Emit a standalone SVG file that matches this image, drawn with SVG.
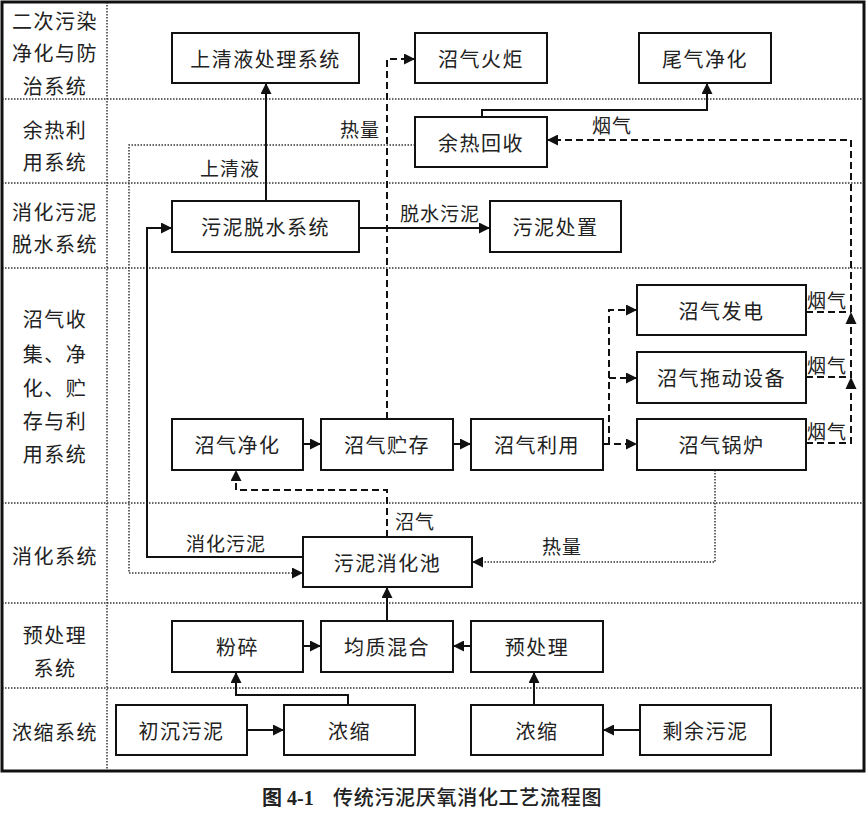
<svg xmlns="http://www.w3.org/2000/svg" width="868" height="817" viewBox="0 0 868 817">
<defs>
<style>
.bx{fill:#fff;stroke:#111;stroke-width:2}
.t{font-family:"Noto Sans CJK SC","Liberation Serif",sans-serif;font-size:20px;fill:#222;text-anchor:middle;dominant-baseline:central;letter-spacing:1.5px}
.rl{font-family:"Noto Sans CJK SC","Liberation Serif",sans-serif;font-size:20px;fill:#222;text-anchor:middle;dominant-baseline:central;letter-spacing:1.5px}
.lb{font-family:"Noto Sans CJK SC","Liberation Serif",sans-serif;font-size:19px;fill:#222;text-anchor:middle;dominant-baseline:central;letter-spacing:1px}
.grid{fill:none;stroke:#333;stroke-width:1.5;stroke-dasharray:1.5 1.5}
.s{fill:none;stroke:#111;stroke-width:2}
.d{fill:none;stroke:#111;stroke-width:2;stroke-dasharray:7 4}
.o{fill:none;stroke:#333;stroke-width:1.5;stroke-dasharray:1.5 1.5}
.ah{fill:#111}
</style>
<marker id="a" viewBox="0 0 10 10" refX="10" refY="5" markerWidth="12" markerHeight="11" markerUnits="userSpaceOnUse" orient="auto"><path d="M0,0 L10,5 L0,10 z" fill="#111"/></marker>
</defs>
<rect width="868" height="817" fill="#fff"/>
<g id="frame">
<line class="grid" x1="107" y1="2" x2="107" y2="771"/>
<line class="grid" x1="2" y1="99" x2="864" y2="99"/>
<line class="grid" x1="2" y1="183" x2="864" y2="183"/>
<line class="grid" x1="2" y1="268" x2="864" y2="268"/>
<line class="grid" x1="2" y1="503" x2="864" y2="503"/>
<line class="grid" x1="2" y1="603" x2="864" y2="603"/>
<line class="grid" x1="2" y1="688" x2="864" y2="688"/>
<rect x="2" y="2" width="862" height="769" fill="none" stroke="#111" stroke-width="3"/>
</g>
<g id="row-labels">
<text class="rl" x="55" y="20">二次污染</text>
<text class="rl" x="55" y="52">净化与防</text>
<text class="rl" x="55" y="85">治系统</text>
<text class="rl" x="55" y="129">余热利</text>
<text class="rl" x="55" y="161">用系统</text>
<text class="rl" x="55" y="211">消化污泥</text>
<text class="rl" x="55" y="243">脱水系统</text>
<text class="rl" x="55" y="318">沼气收</text>
<text class="rl" x="55" y="353">集、净</text>
<text class="rl" x="55" y="387">化、贮</text>
<text class="rl" x="55" y="420">存与利</text>
<text class="rl" x="55" y="453">用系统</text>
<text class="rl" x="55" y="555">消化系统</text>
<text class="rl" x="55" y="634">预处理</text>
<text class="rl" x="55" y="667">系统</text>
<text class="rl" x="55" y="731">浓缩系统</text>
</g>
<g id="connectors">
<path class="s" d="M266,201 V83" marker-end="url(#a)"/>
<path class="s" d="M359,228 H490" marker-end="url(#a)"/>
<path class="d" d="M387,419 V59 H415" marker-end="url(#a)"/>
<path class="d" d="M387,537 V490 H236 V470" marker-end="url(#a)"/>
<path class="s" d="M303,444 H321" marker-end="url(#a)"/>
<path class="s" d="M453,444 H471" marker-end="url(#a)"/>
<path class="d" d="M603,444 H637" marker-end="url(#a)"/>
<path class="d" d="M609,444 V310 H637" marker-end="url(#a)"/>
<path class="d" d="M609,378 H637" marker-end="url(#a)"/>
<path class="d" d="M806,443 H851 V140 H547" marker-end="url(#a)"/>
<path class="d" d="M806,312 H851"/>
<path class="d" d="M806,377 H851"/>
<polygon class="ah" points="851,312 845.5,324 856.5,324"/>
<polygon class="ah" points="851,377 845.5,389 856.5,389"/>
<path class="s" d="M482,117 V110 H707 V83" marker-end="url(#a)"/>
<path class="o" d="M415,145 H129 V573 H303" marker-end="url(#a)"/>
<path class="s" d="M303,557 H147 V228 H172" marker-end="url(#a)"/>
<path class="o" d="M715,470 V562 H472" marker-end="url(#a)"/>
<path class="s" d="M387,621 V587" marker-end="url(#a)"/>
<path class="s" d="M303,646 H321" marker-end="url(#a)"/>
<path class="s" d="M471,646 H453" marker-end="url(#a)"/>
<path class="s" d="M247,730 H284" marker-end="url(#a)"/>
<path class="s" d="M348,705 V695 H236 V672" marker-end="url(#a)"/>
<path class="s" d="M534,705 V672" marker-end="url(#a)"/>
<path class="s" d="M640,730 H603" marker-end="url(#a)"/>
<text class="lb" x="230" y="167">上清液</text>
<text class="lb" x="440" y="212">脱水污泥</text>
<text class="lb" x="360" y="128">热量</text>
<text class="lb" x="612" y="124">烟气</text>
<text class="lb" x="827" y="299">烟气</text>
<text class="lb" x="827" y="364">烟气</text>
<text class="lb" x="827" y="430">烟气</text>
<text class="lb" x="415" y="520">沼气</text>
<text class="lb" x="226" y="542">消化污泥</text>
<text class="lb" x="562" y="545">热量</text>
</g>
<g id="n-sqy"><rect class="bx" x="172" y="33" width="187" height="50"/><text class="t" x="265.5" y="58">上清液处理系统</text></g>
<g id="n-zqhj"><rect class="bx" x="415" y="33" width="132" height="50"/><text class="t" x="481" y="58">沼气火炬</text></g>
<g id="n-wqjh"><rect class="bx" x="639" y="33" width="132" height="50"/><text class="t" x="705" y="58">尾气净化</text></g>
<g id="n-yrhs"><rect class="bx" x="415" y="117" width="132" height="50"/><text class="t" x="481" y="142">余热回收</text></g>
<g id="n-wntst"><rect class="bx" x="172" y="201" width="187" height="51"/><text class="t" x="265.5" y="226.5">污泥脱水系统</text></g>
<g id="n-wncz"><rect class="bx" x="490" y="201" width="131" height="51"/><text class="t" x="555.5" y="226.5">污泥处置</text></g>
<g id="n-zqfd"><rect class="bx" x="637" y="285" width="169" height="50"/><text class="t" x="721.5" y="310">沼气发电</text></g>
<g id="n-zqtd"><rect class="bx" x="637" y="352" width="169" height="51"/><text class="t" x="721.5" y="377.5">沼气拖动设备</text></g>
<g id="n-zqjh"><rect class="bx" x="172" y="419" width="131" height="51"/><text class="t" x="237.5" y="444.5">沼气净化</text></g>
<g id="n-zqzc"><rect class="bx" x="321" y="419" width="132" height="51"/><text class="t" x="387" y="444.5">沼气贮存</text></g>
<g id="n-zqly"><rect class="bx" x="471" y="419" width="132" height="51"/><text class="t" x="537" y="444.5">沼气利用</text></g>
<g id="n-zqgl"><rect class="bx" x="637" y="419" width="169" height="51"/><text class="t" x="721.5" y="444.5">沼气锅炉</text></g>
<g id="n-xhc"><rect class="bx" x="303" y="537" width="169" height="50"/><text class="t" x="387.5" y="562">污泥消化池</text></g>
<g id="n-fs"><rect class="bx" x="172" y="621" width="131" height="51"/><text class="t" x="237.5" y="646.5">粉碎</text></g>
<g id="n-jzhh"><rect class="bx" x="321" y="621" width="132" height="51"/><text class="t" x="387" y="646.5">均质混合</text></g>
<g id="n-ycl"><rect class="bx" x="471" y="621" width="132" height="51"/><text class="t" x="537" y="646.5">预处理</text></g>
<g id="n-cc"><rect class="bx" x="116" y="705" width="131" height="50"/><text class="t" x="181.5" y="730">初沉污泥</text></g>
<g id="n-ns1"><rect class="bx" x="284" y="705" width="131" height="50"/><text class="t" x="349.5" y="730">浓缩</text></g>
<g id="n-ns2"><rect class="bx" x="471" y="705" width="132" height="50"/><text class="t" x="537" y="730">浓缩</text></g>
<g id="n-sy"><rect class="bx" x="640" y="705" width="131" height="50"/><text class="t" x="705.5" y="730">剩余污泥</text></g>
<g id="caption"><text x="262" y="805" font-family="'Liberation Serif','Noto Sans CJK SC',serif" font-size="20" font-weight="bold" fill="#222">图 4-1<tspan x="333" font-family="'Noto Sans CJK SC',serif" font-weight="500" letter-spacing="0.7">传统污泥厌氧消化工艺流程图</tspan></text></g>
</svg>
